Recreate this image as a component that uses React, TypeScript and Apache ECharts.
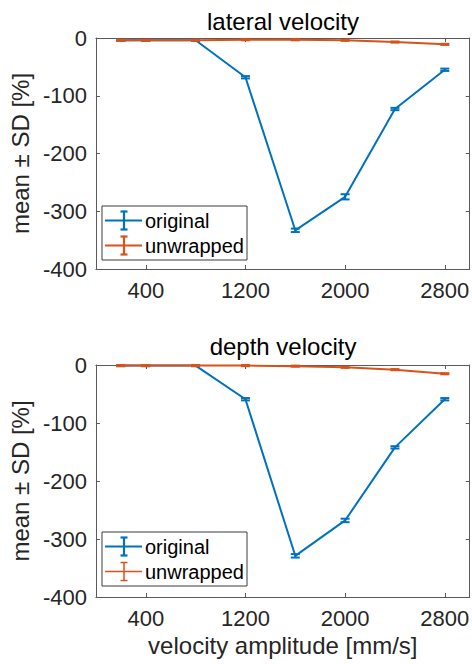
import React, { useEffect, useRef } from 'react';
import * as echarts from 'echarts';

// ---------- data ----------
const amplitudes = [200, 400, 800, 1200, 1600, 2000, 2400, 2800];
const xTickValues = [400, 1200, 2000, 2800];

const lateralOriginal = [-4, -4, -4, -68, -333, -275, -123, -55];
const lateralOriginalSD = [1, 1, 1, 2, 3, 4.5, 2, 2];
const lateralUnwrapped = [-4, -4, -4, -3, -3, -4, -7, -11];
const lateralUnwrappedSD = [1, 1, 1, 1, 1, 1, 1, 1];

const depthOriginal = [-1, -1, -1, -59, -329, -268, -142, -59];
const depthOriginalSD = [1, 1, 1, 2, 3, 3, 2, 2];
const depthUnwrapped = [-1, -1, -1, -1, -2, -4, -8, -15];
const depthUnwrappedSD = [1, 1, 1, 1, 1, 1, 1, 1];

const panelTitles = ['lateral velocity', 'depth velocity'];
const seriesNames = ['original', 'unwrapped'];
const xAxisTitle = 'velocity amplitude [mm/s]';
const yAxisTitle = 'mean \u00B1 SD [%]';

// ---------- styles ----------
const FONT = '"Liberation Sans", Arial, Helvetica, sans-serif';
const BLUE = '#0072BD';
const RED = '#D95319';
const AXIS = '#5a5a5a';
const TEXT = '#262626';

const grids = [
  { left: 92, top: 38, width: 382, height: 231 },
  { left: 92, top: 365, width: 382, height: 232 },
];

function xAxisDef(gridIndex: number, position: 'bottom' | 'top', withLabels: boolean, withName: boolean) {
  return {
    type: 'value',
    gridIndex,
    position,
    min: 0,
    max: 3000,
    name: withName ? xAxisTitle : '',
    nameLocation: 'middle',
    nameGap: 36,
    nameTextStyle: { fontSize: 24, color: TEXT, fontFamily: FONT },
    axisLine: { show: true, onZero: false, lineStyle: { color: AXIS, width: 1 } },
    axisTick: { show: true, inside: true, length: 4, customValues: xTickValues, lineStyle: { color: AXIS, width: 1 } },
    axisLabel: {
      show: withLabels,
      customValues: xTickValues,
      formatter: (v: number) => String(v),
      fontSize: 22,
      color: TEXT,
      margin: 10,
      fontFamily: FONT,
    },
    splitLine: { show: false },
  };
}

function yAxisDef(gridIndex: number, position: 'left' | 'right', withLabels: boolean) {
  return {
    type: 'value',
    gridIndex,
    position,
    min: -400,
    max: 0,
    interval: 100,
    name: withLabels ? yAxisTitle : '',
    nameLocation: 'middle',
    nameGap: 57,
    nameRotate: 90,
    nameTextStyle: { fontSize: 24, color: TEXT, fontFamily: FONT },
    axisLine: { show: true, onZero: false, lineStyle: { color: AXIS, width: 1 } },
    axisTick: { show: true, inside: true, length: 4, lineStyle: { color: AXIS, width: 1 } },
    axisLabel: { show: withLabels, formatter: (v: number) => String(v), fontSize: 22, color: TEXT, margin: 9, fontFamily: FONT },
    splitLine: { show: false },
  };
}

function lineSeries(name: string, axisIdx: number, ys: number[], color: string, z: number) {
  return {
    type: 'line',
    name,
    xAxisIndex: axisIdx,
    yAxisIndex: axisIdx,
    data: amplitudes.map((x, i) => [x, ys[i]]),
    symbol: 'none',
    showSymbol: false,
    lineStyle: { color, width: 2 },
    itemStyle: { color },
    silent: true,
    z,
  };
}

function errorSeries(name: string, axisIdx: number, ys: number[], sds: number[], color: string, z: number, capHalf: number) {
  return {
    type: 'custom',
    name: name + ' SD',
    xAxisIndex: axisIdx,
    yAxisIndex: axisIdx,
    data: amplitudes.map((x, i) => [x, ys[i], ys[i] - sds[i], ys[i] + sds[i]]),
    encode: { x: 0, y: [1, 2, 3] },
    silent: true,
    z,
    renderItem: (params: any, api: any) => {
      const x = api.value(0);
      const lo = api.coord([x, api.value(2)]);
      const hi = api.coord([x, api.value(3)]);
      const style = { stroke: color, lineWidth: 2, fill: 'none' };
      return {
        type: 'group',
        children: [
          { type: 'line', shape: { x1: lo[0], y1: lo[1], x2: hi[0], y2: hi[1] }, style },
          { type: 'line', shape: { x1: lo[0] - capHalf, y1: lo[1], x2: lo[0] + capHalf, y2: lo[1] }, style },
          { type: 'line', shape: { x1: hi[0] - capHalf, y1: hi[1], x2: hi[0] + capHalf, y2: hi[1] }, style },
        ],
      };
    },
  };
}

function legendGraphic(top: number, redWidth: number) {
  const left = 102;
  const colors = [BLUE, RED];
  const widths = [2.2, redWidth];
  const children: any[] = [
    {
      type: 'rect',
      shape: { x: left, y: top, width: 145, height: 54 },
      style: { fill: '#ffffff', stroke: '#3c3c3c', lineWidth: 1 },
    },
  ];
  seriesNames.forEach((name, i) => {
    const cy = top + 14.5 + i * 25;
    const st = { stroke: colors[i], lineWidth: widths[i] };
    children.push(
      { type: 'line', shape: { x1: left + 3, y1: cy, x2: left + 40, y2: cy }, style: st },
      { type: 'line', shape: { x1: left + 22, y1: cy - 9, x2: left + 22, y2: cy + 9 }, style: st },
      { type: 'line', shape: { x1: left + 18.5, y1: cy - 9, x2: left + 25.5, y2: cy - 9 }, style: st },
      { type: 'line', shape: { x1: left + 18.5, y1: cy + 9, x2: left + 25.5, y2: cy + 9 }, style: st },
      {
        type: 'text',
        x: left + 43,
        y: cy,
        style: { text: name, fontSize: 20, fill: '#000', fontFamily: FONT, verticalAlign: 'middle', align: 'left' },
      }
    );
  });
  return { type: 'group', children, z: 100 };
}

export default function App() {
  const ref = useRef<HTMLDivElement>(null);

  useEffect(() => {
    if (!ref.current) return;
    const chart = echarts.init(ref.current, undefined, { renderer: 'svg' });
    const option: any = {
      animation: false,
      backgroundColor: '#ffffff',
      grid: grids.map((g) => ({ ...g, containLabel: false })),
      xAxis: [
        xAxisDef(0, 'bottom', true, false),
        xAxisDef(0, 'top', false, false),
        xAxisDef(1, 'bottom', true, true),
        xAxisDef(1, 'top', false, false),
      ],
      yAxis: [
        yAxisDef(0, 'left', true),
        yAxisDef(0, 'right', false),
        yAxisDef(1, 'left', true),
        yAxisDef(1, 'right', false),
      ],
      series: [
        lineSeries(seriesNames[0], 0, lateralOriginal, BLUE, 2),
        errorSeries(seriesNames[0], 0, lateralOriginal, lateralOriginalSD, BLUE, 3, 4.5),
        lineSeries(seriesNames[1], 0, lateralUnwrapped, RED, 4),
        errorSeries(seriesNames[1], 0, lateralUnwrapped, lateralUnwrappedSD, RED, 5, 4.5),
        lineSeries(seriesNames[0], 2, depthOriginal, BLUE, 2),
        errorSeries(seriesNames[0], 2, depthOriginal, depthOriginalSD, BLUE, 3, 4.5),
        lineSeries(seriesNames[1], 2, depthUnwrapped, RED, 4),
        errorSeries(seriesNames[1], 2, depthUnwrapped, depthUnwrappedSD, RED, 5, 4.5),
      ],
      graphic: [
        {
          type: 'text',
          x: 283,
          y: 9,
          style: { text: panelTitles[0], fontSize: 24, fill: '#000', fontFamily: FONT, align: 'center', verticalAlign: 'top' },
        },
        {
          type: 'text',
          x: 283,
          y: 334,
          style: { text: panelTitles[1], fontSize: 24, fill: '#000', fontFamily: FONT, align: 'center', verticalAlign: 'top' },
        },
        legendGraphic(206, 2.2),
        legendGraphic(532, 1.5),
      ],
    };
    chart.setOption(option);
    return () => chart.dispose();
  }, []);

  return (
    <div
      ref={ref}
      style={{ position: 'absolute', left: 0, top: 0, width: 472, height: 664, background: '#fff' }}
    />
  );
}
